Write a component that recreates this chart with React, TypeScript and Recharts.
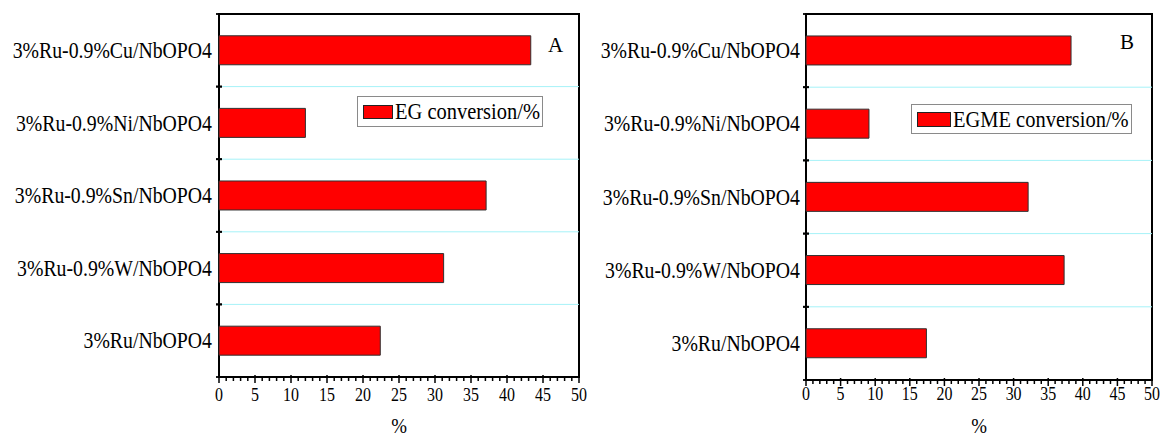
import React from 'react';
import { BarChart, Bar, XAxis, YAxis, ReferenceLine, ReferenceArea, Legend } from 'recharts';

const categories = [
  '3%Ru-0.9%Cu/NbOPO4',
  '3%Ru-0.9%Ni/NbOPO4',
  '3%Ru-0.9%Sn/NbOPO4',
  '3%Ru-0.9%W/NbOPO4',
  '3%Ru/NbOPO4',
];
const egConversion = [43.3, 12.0, 37.1, 31.2, 22.4];
const egmeConversion = [38.3, 9.1, 32.1, 37.3, 17.4];
const xMajorTicks = [0, 5, 10, 15, 20, 25, 30, 35, 40, 45, 50];
const xMinorTicks = [
  0, 1, 2, 3, 4, 5, 6, 7, 8, 9, 10, 11, 12, 13, 14, 15, 16, 17, 18, 19, 20, 21, 22, 23, 24, 25,
  26, 27, 28, 29, 30, 31, 32, 33, 34, 35, 36, 37, 38, 39, 40, 41, 42, 43, 44, 45, 46, 47, 48, 49, 50,
];

const FONT = '"Liberation Serif", "Times New Roman", Times, serif';

function makeCatTick(gap: number) {
  return (props: any) => {
    const { x, y, payload } = props;
    const half = payload && typeof payload.offset === 'number' ? payload.offset : 0;
    const ax = x + gap;
    return (
      <g>
        {half > 0 && (
          <>
            <line x1={ax - 3} x2={ax + 3} y1={y - half} y2={y - half} stroke="#000" strokeWidth={1.8} />
            <line x1={ax - 3} x2={ax + 3} y1={y + half} y2={y + half} stroke="#000" strokeWidth={1.8} />
          </>
        )}
        <g transform={`translate(${x},${y}) scale(0.86,1)`}>
          <text x={0} y={0} dy="0.33em" textAnchor="end" fontFamily={FONT} fontSize={23} fill="#000">
            {payload.value}
          </text>
        </g>
      </g>
    );
  };
}

function makeXTick(labelOffset: number) {
  return (props: any) => {
    const { x, y, payload } = props;
    const v = payload.value;
    const major = xMajorTicks.indexOf(v) >= 0;
    return (
      <g>
        <line x1={x} x2={x} y1={major ? y - 2 : y} y2={major ? y + 6 : y + 4} stroke="#000" strokeWidth={1.5} />
        {major && (
          <g transform={`translate(${x},${y + labelOffset}) scale(0.84,1)`}>
            <text x={0} y={0} dy="0.34em" textAnchor="middle" fontFamily={FONT} fontSize={19} fill="#000">
              {v}
            </text>
          </g>
        )}
      </g>
    );
  };
}

function FrameShape(props: any) {
  const { x, y, width, height } = props;
  return <rect x={x} y={y} width={width} height={height} fill="none" stroke="#000" strokeWidth={2} />;
}

function makeLegend(box: { w: number; h: number; sw: number; sh: number }) {
  return (props: any) => {
    const item = props.payload && props.payload[0];
    if (!item) return null;
    return (
      <div
        style={{
          width: box.w,
          height: box.h,
          boxSizing: 'border-box',
          border: '1px solid #8a8a8a',
          background: '#fff',
          display: 'flex',
          alignItems: 'center',
          paddingLeft: 5,
          overflow: 'visible',
          whiteSpace: 'nowrap',
        }}
      >
        <span
          style={{
            display: 'inline-block',
            width: box.sw,
            height: box.sh,
            boxSizing: 'border-box',
            background: item.color,
            border: '1px solid #222',
            flex: 'none',
          }}
        />
        <span
          style={{
            display: 'inline-block',
            fontFamily: FONT,
            fontSize: 23,
            color: '#000',
            marginLeft: 2,
            transform: 'scaleX(0.89)',
            transformOrigin: 'left center',
            lineHeight: 1,
          }}
        >
          {item.value}
        </span>
      </div>
    );
  };
}

type PanelProps = {
  values: number[];
  name: string;
  width: number;
  catWidth: number;
  marginRight: number;
  marginTop: number;
  xHeight: number;
  tickLabelOffset: number;
  axisLabelBaseline: number;
  legendPos: { left: number; top: number };
  legendBox: { w: number; h: number; sw: number; sh: number };
  catGap: number;
};

function Panel(p: PanelProps) {
  const data = categories.map((c, i) => ({ category: c, value: p.values[i] }));
  return (
    <BarChart
      width={p.width}
      height={438}
      data={data}
      layout="vertical"
      barCategoryGap="30%"
      margin={{ top: p.marginTop, right: p.marginRight, bottom: 0, left: 0 }}
    >
      <XAxis
        xAxisId="main"
        type="number"
        domain={[0, 50]}
        ticks={xMinorTicks}
        interval={0}
        height={p.xHeight}
        tickSize={0}
        tickMargin={0}
        tickLine={false}
        axisLine={{ stroke: '#000', strokeWidth: 2 }}
        tick={makeXTick(p.tickLabelOffset)}
        label={{
          content: (lp: any) => {
            const vb = lp.viewBox || {};
            return (
              <g transform={`translate(${vb.x + vb.width / 2},${vb.y + p.axisLabelBaseline}) scale(0.9,1)`}>
                <text x={0} y={0} textAnchor="middle" fontFamily={FONT} fontSize={21} fill="#000">
                  %
                </text>
              </g>
            );
          },
        }}
      />
      <YAxis
        yAxisId="cat"
        type="category"
        dataKey="category"
        width={p.catWidth}
        tickSize={0}
        tickMargin={p.catGap}
        tickLine={false}
        axisLine={false}
        interval={0}
        tick={makeCatTick(p.catGap)}
      />
      {categories.slice(1).map((c) => (
        <ReferenceLine
          key={c}
          xAxisId="main"
          yAxisId="cat"
          y={c}
          position="start"
          stroke="#a6f2f8"
          strokeWidth={1}
        />
      ))}
      <Bar
        xAxisId="main"
        yAxisId="cat"
        dataKey="value"
        name={p.name}
        fill="#ff0000"
        stroke="#303030"
        strokeWidth={1}
        isAnimationActive={false}
      />
      <ReferenceArea
        xAxisId="main"
        yAxisId="cat"
        x1={0}
        x2={50}
        y1={categories[0]}
        y2={categories[categories.length - 1]}
        ifOverflow="visible"
        shape={FrameShape}
      />
      <Legend
        layout="vertical"
        align="center"
        verticalAlign="middle"
        wrapperStyle={{ left: p.legendPos.left, top: p.legendPos.top, width: 'auto', height: 'auto' }}
        content={makeLegend(p.legendBox)}
      />
    </BarChart>
  );
}

export default function App() {
  return (
    <div style={{ position: 'absolute', left: 0, top: 0, width: 1160, height: 438, background: '#fff', overflow: 'hidden' }}>
      <div style={{ position: 'absolute', left: 0, top: 0, width: 600, height: 438 }}>
        <Panel
          values={egConversion}
          name="EG conversion/%"
          width={600}
          catWidth={219}
          marginRight={21}
          marginTop={14}
          xHeight={61}
          tickLabelOffset={18}
          axisLabelBaseline={56}
          legendPos={{ left: 357, top: 96 }}
          legendBox={{ w: 186, h: 31, sw: 30, sh: 14 }}
          catGap={7}
        />
      </div>
      <div style={{ position: 'absolute', left: 580, top: 0, width: 580, height: 438 }}>
        <Panel
          values={egmeConversion}
          name="EGME conversion/%"
          width={580}
          catWidth={226}
          marginRight={8}
          marginTop={14}
          xHeight={58}
          tickLabelOffset={14}
          axisLabelBaseline={53}
          legendPos={{ left: 331, top: 104 }}
          legendBox={{ w: 221, h: 30, sw: 34, sh: 15 }}
          catGap={6}
        />
      </div>
      <svg
        width={1160}
        height={438}
        style={{ position: 'absolute', left: 0, top: 0, pointerEvents: 'none' }}
      >
        <text x={548} y={52} fontFamily={FONT} fontSize={21} fill="#000">A</text>
        <text x={1120} y={49} fontFamily={FONT} fontSize={21} fill="#000">B</text>
      </svg>
    </div>
  );
}
